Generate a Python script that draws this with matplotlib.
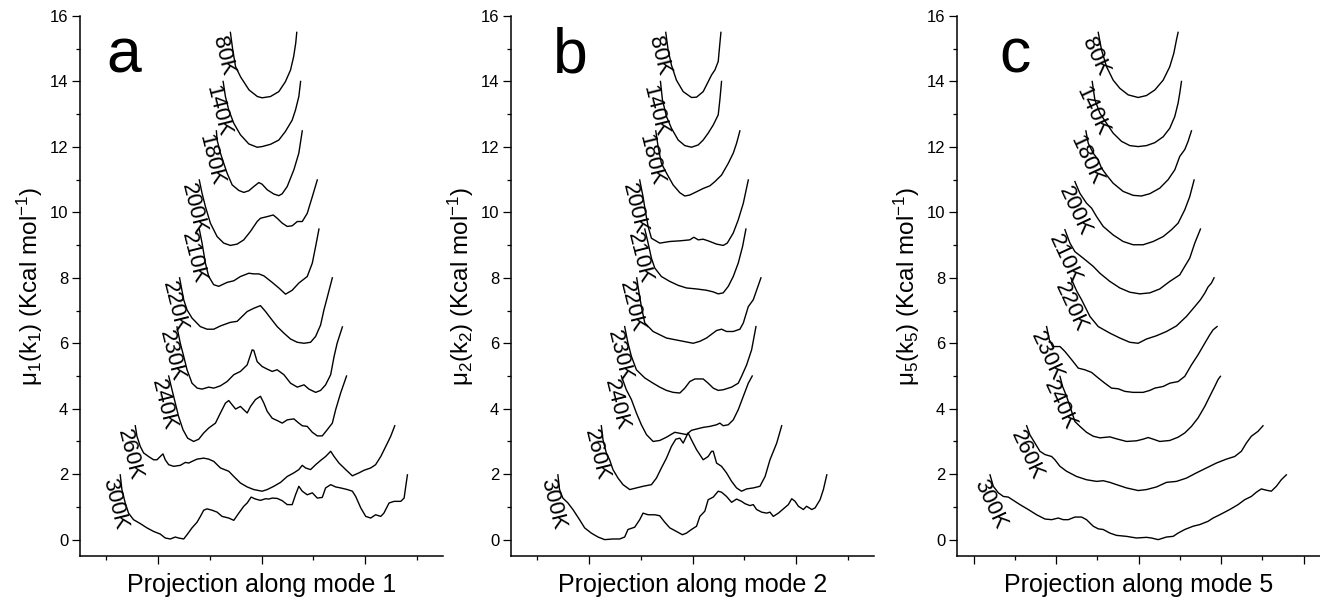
import matplotlib.pyplot as plt
from matplotlib.ticker import MultipleLocator

plt.rcParams['font.family'] = ['Liberation Sans', 'DejaVu Sans']
plt.rcParams['mathtext.fontset'] = 'custom'
plt.rcParams['mathtext.rm'] = 'Liberation Sans'
plt.rcParams['mathtext.it'] = 'Liberation Sans:italic'

temps = ['80K', '140K', '180K', '200K', '210K', '220K', '230K', '240K', '260K', '300K']
modes = [1, 2, 5]
letters = ['a', 'b', 'c']

# free energy profiles, (projection, kcal/mol) pairs
a_80 = [(-0.30, 15.5), (-0.277, 14.96), (-0.25, 14.45), (-0.20, 14.13), (-0.12, 13.74), (-0.04, 13.54), (0.006, 13.5),
        (0.087, 13.54), (0.167, 13.69), (0.23, 13.99), (0.28, 14.35), (0.31, 14.76), (0.33, 15.17), (0.34, 15.5)]
a_140 = [(-0.37, 14.0), (-0.348, 13.54), (-0.316, 13.13), (-0.267, 12.72), (-0.203, 12.37), (-0.122, 12.09),
         (-0.042, 11.99), (0.006, 12.01), (0.087, 12.08), (0.167, 12.21), (0.23, 12.47), (0.296, 12.82),
         (0.328, 13.13), (0.36, 13.54), (0.377, 14.0)]
a_180 = [(-0.435, 12.49), (-0.428, 12.21), (-0.396, 11.81), (-0.364, 11.5), (-0.332, 11.2), (-0.283, 10.84),
         (-0.219, 10.67), (-0.171, 10.61), (-0.122, 10.66), (-0.074, 10.79), (-0.026, 10.91), (0.006, 10.86),
         (0.055, 10.69), (0.119, 10.56), (0.167, 10.51), (0.20, 10.57), (0.248, 10.79), (0.312, 11.3),
         (0.36, 11.81), (0.393, 12.49)]
a_200 = [(-0.60, 10.99), (-0.573, 10.58), (-0.541, 10.18), (-0.493, 9.67), (-0.428, 9.26), (-0.364, 9.06),
         (-0.30, 8.99), (-0.235, 9.03), (-0.171, 9.16), (-0.106, 9.42), (-0.042, 9.72), (-0.01, 9.82),
         (0.055, 9.87), (0.113, 9.92), (0.151, 9.82), (0.20, 9.67), (0.248, 9.57), (0.296, 9.59),
         (0.345, 9.72), (0.393, 9.72), (0.441, 9.97), (0.49, 10.48), (0.538, 10.99)]
a_210 = [(-0.60, 9.49), (-0.573, 9.06), (-0.541, 8.45), (-0.509, 8.04), (-0.461, 7.79), (-0.412, 7.74),
         (-0.332, 7.86), (-0.267, 7.91), (-0.203, 8.04), (-0.122, 8.14), (-0.074, 8.12), (-0.026, 8.12),
         (0.023, 8.06), (0.103, 7.86), (0.167, 7.69), (0.232, 7.5), (0.296, 7.62), (0.36, 7.84),
         (0.441, 8.04), (0.49, 8.45), (0.522, 8.96), (0.554, 9.49)]
a_220 = [(-0.79, 8.0), (-0.75, 7.33), (-0.718, 7.02), (-0.67, 6.77), (-0.59, 6.51), (-0.525, 6.43), (-0.46, 6.43),
         (-0.396, 6.53), (-0.30, 6.64), (-0.235, 6.67), (-0.138, 6.97), (-0.074, 7.07), (-0.01, 7.15),
         (0.039, 6.97), (0.087, 6.77), (0.151, 6.51), (0.216, 6.31), (0.28, 6.13), (0.345, 6.03), (0.41, 6.0),
         (0.473, 6.03), (0.522, 6.21), (0.57, 6.56), (0.602, 7.02), (0.628, 7.33), (0.683, 8.0)]
a_230 = [(-0.815, 6.5), (-0.783, 6.0), (-0.75, 5.6), (-0.718, 5.19), (-0.67, 4.78), (-0.62, 4.63), (-0.573, 4.6),
         (-0.509, 4.66), (-0.46, 4.63), (-0.396, 4.7), (-0.332, 4.83), (-0.267, 5.04), (-0.203, 5.14),
         (-0.138, 5.34), (-0.09, 5.8), (-0.074, 5.78), (-0.042, 5.44), (0.006, 5.29), (0.055, 5.21),
         (0.103, 5.14), (0.151, 5.19), (0.216, 5.04), (0.28, 4.78), (0.345, 4.66), (0.41, 4.73), (0.457, 4.6),
         (0.522, 4.5), (0.57, 4.56), (0.618, 4.73), (0.667, 5.04), (0.70, 5.6), (0.73, 6.01), (0.78, 6.5)]
a_240 = [(-0.895, 5.0), (-0.863, 4.58), (-0.831, 4.17), (-0.80, 3.77), (-0.757, 3.36), (-0.712, 3.1), (-0.654, 3.0),
         (-0.605, 3.07), (-0.557, 3.26), (-0.509, 3.41), (-0.444, 3.56), (-0.396, 3.87), (-0.348, 4.17),
         (-0.316, 4.25), (-0.283, 4.12), (-0.25, 3.99), (-0.203, 4.07), (-0.171, 3.97), (-0.138, 3.87),
         (-0.106, 4.07), (-0.058, 4.28), (-0.01, 4.38), (0.023, 4.17), (0.055, 3.92), (0.103, 3.71),
         (0.151, 3.64), (0.20, 3.56), (0.248, 3.66), (0.312, 3.69), (0.36, 3.56), (0.393, 3.48), (0.441, 3.46),
         (0.49, 3.28), (0.538, 3.17), (0.586, 3.17), (0.634, 3.36), (0.683, 3.56), (0.715, 3.97), (0.763, 4.48),
         (0.82, 5.0)]
a_260 = [(-1.217, 3.48), (-1.201, 3.16), (-1.169, 2.85), (-1.137, 2.65), (-1.089, 2.54), (-1.04, 2.44),
         (-1.008, 2.44), (-0.976, 2.54), (-0.95, 2.62), (-0.928, 2.44), (-0.895, 2.29), (-0.847, 2.24),
         (-0.783, 2.27), (-0.734, 2.36), (-0.702, 2.34), (-0.67, 2.39), (-0.622, 2.46), (-0.557, 2.49),
         (-0.509, 2.46), (-0.46, 2.39), (-0.396, 2.19), (-0.316, 2.09), (-0.267, 1.93), (-0.203, 1.73),
         (-0.138, 1.61), (-0.074, 1.53), (0.006, 1.48), (0.055, 1.53), (0.119, 1.63), (0.184, 1.75),
         (0.248, 1.93), (0.312, 2.04), (0.36, 2.14), (0.393, 2.27), (0.425, 2.19), (0.473, 2.14), (0.522, 2.29),
         (0.57, 2.42), (0.618, 2.54), (0.667, 2.7), (0.70, 2.54), (0.747, 2.34), (0.812, 2.14), (0.876, 1.95),
         (0.94, 2.04), (0.989, 2.12), (1.053, 2.19), (1.10, 2.29), (1.15, 2.54), (1.214, 2.95), (1.246, 3.16),
         (1.285, 3.48)]
a_300 = [(-1.362, 1.98), (-1.346, 1.53), (-1.314, 1.12), (-1.282, 0.81), (-1.234, 0.61), (-1.169, 0.49),
         (-1.105, 0.36), (-1.04, 0.25), (-0.976, 0.17), (-0.928, 0.05), (-0.879, 0.02), (-0.831, 0.08),
         (-0.80, 0.05), (-0.75, 0.02), (-0.718, 0.15), (-0.67, 0.36), (-0.622, 0.53), (-0.589, 0.71),
         (-0.557, 0.90), (-0.525, 0.94), (-0.477, 0.90), (-0.428, 0.84), (-0.38, 0.71), (-0.316, 0.66),
         (-0.267, 0.59), (-0.219, 0.81), (-0.171, 1.02), (-0.138, 1.12), (-0.10, 1.30), (-0.058, 1.24),
         (-0.01, 1.20), (0.039, 1.25), (0.071, 1.24), (0.103, 1.27), (0.151, 1.26), (0.20, 1.19), (0.248, 1.07),
         (0.296, 1.07), (0.328, 1.37), (0.36, 1.63), (0.393, 1.48), (0.441, 1.37), (0.49, 1.43), (0.538, 1.27),
         (0.586, 1.29), (0.618, 1.58), (0.667, 1.68), (0.715, 1.61), (0.763, 1.58), (0.828, 1.53),
         (0.876, 1.48), (0.908, 1.32), (0.957, 0.97), (1.005, 0.71), (1.053, 0.66), (1.10, 0.76), (1.15, 0.71),
         (1.18, 0.81), (1.23, 1.12), (1.279, 1.17), (1.343, 1.17), (1.375, 1.27), (1.391, 1.63), (1.407, 1.98)]

b_80 = [(-0.258, 15.5), (-0.235, 14.96), (-0.203, 14.5), (-0.155, 14.04), (-0.09, 13.69), (-0.01, 13.51),
        (0.039, 13.52), (0.103, 13.69), (0.151, 13.99), (0.184, 14.2), (0.216, 14.35), (0.248, 14.61),
        (0.258, 14.96), (0.274, 15.5)]
b_140 = [(-0.309, 14.0), (-0.29, 13.44), (-0.251, 12.93), (-0.203, 12.57), (-0.138, 12.21), (-0.074, 12.04),
         (-0.01, 11.99), (0.055, 12.06), (0.103, 12.21), (0.151, 12.42), (0.20, 12.67), (0.248, 12.98),
         (0.264, 13.44), (0.28, 14.0)]
b_180 = [(-0.354, 12.49), (-0.332, 12.01), (-0.30, 11.5), (-0.251, 11.2), (-0.187, 10.84), (-0.122, 10.6),
         (-0.074, 10.5), (-0.026, 10.53), (0.039, 10.63), (0.103, 10.73), (0.167, 10.81), (0.216, 10.94),
         (0.28, 11.14), (0.345, 11.5), (0.393, 11.81), (0.425, 12.11), (0.457, 12.49)]
b_200 = [(-0.509, 10.99), (-0.477, 10.48), (-0.451, 9.97), (-0.428, 9.57), (-0.396, 9.21), (-0.316, 9.06),
         (-0.219, 9.11), (-0.122, 9.13), (-0.026, 9.16), (0.013, 9.24), (0.055, 9.16), (0.103, 9.18),
         (0.151, 9.13), (0.232, 9.03), (0.296, 8.99), (0.335, 9.06), (0.393, 9.37), (0.441, 9.77),
         (0.49, 10.28), (0.538, 10.99)]
b_210 = [(-0.46, 9.49), (-0.428, 9.06), (-0.396, 8.6), (-0.364, 8.3), (-0.30, 8.04), (-0.219, 7.89),
         (-0.138, 7.77), (-0.058, 7.69), (0.039, 7.66), (0.135, 7.62), (0.20, 7.57), (0.248, 7.51),
         (0.296, 7.54), (0.345, 7.74), (0.393, 8.04), (0.441, 8.45), (0.483, 8.96), (0.515, 9.49)]
b_220 = [(-0.538, 8.0), (-0.515, 7.53), (-0.493, 7.12), (-0.46, 6.62), (-0.38, 6.36), (-0.251, 6.16),
         (-0.09, 6.06), (0.006, 6.0), (0.071, 6.06), (0.135, 6.16), (0.232, 6.39), (0.28, 6.43), (0.328, 6.36),
         (0.393, 6.36), (0.457, 6.43), (0.49, 6.62), (0.538, 7.12), (0.586, 7.33), (0.66, 8.0)]
b_230 = [(-0.654, 6.51), (-0.622, 6.0), (-0.589, 5.6), (-0.541, 5.19), (-0.46, 4.94), (-0.38, 4.78),
         (-0.316, 4.66), (-0.251, 4.56), (-0.187, 4.5), (-0.122, 4.48), (-0.074, 4.63), (-0.026, 4.83),
         (0.023, 4.91), (0.103, 4.91), (0.151, 4.78), (0.20, 4.63), (0.248, 4.56), (0.296, 4.58),
         (0.377, 4.66), (0.441, 4.78), (0.473, 4.99), (0.522, 5.34), (0.57, 5.8), (0.612, 6.51)]
b_240 = [(-0.686, 5.0), (-0.638, 4.58), (-0.589, 4.28), (-0.541, 3.87), (-0.493, 3.51), (-0.444, 3.21),
         (-0.38, 3.0), (-0.316, 3.03), (-0.251, 3.13), (-0.171, 3.28), (-0.106, 3.24), (-0.058, 3.21),
         (-0.01, 3.34), (0.039, 3.38), (0.103, 3.43), (0.167, 3.46), (0.232, 3.51), (0.264, 3.56),
         (0.296, 3.48), (0.345, 3.51), (0.393, 3.66), (0.441, 3.97), (0.49, 4.38), (0.538, 4.78), (0.576, 5.0)]
b_260 = [(-0.879, 3.48), (-0.863, 3.05), (-0.831, 2.65), (-0.799, 2.44), (-0.767, 2.14), (-0.718, 1.88),
         (-0.67, 1.68), (-0.605, 1.53), (-0.541, 1.58), (-0.477, 1.63), (-0.396, 1.68), (-0.348, 1.88),
         (-0.30, 2.19), (-0.251, 2.49), (-0.203, 2.85), (-0.161, 3.07), (-0.122, 3.1), (-0.09, 2.95),
         (-0.058, 3.16), (-0.042, 3.26), (-0.01, 3.05), (0.039, 2.75), (0.103, 2.44), (0.151, 2.54),
         (0.184, 2.7), (0.20, 2.7), (0.232, 2.34), (0.28, 2.24), (0.328, 2.04), (0.377, 1.78), (0.425, 1.58),
         (0.473, 1.48), (0.522, 1.55), (0.586, 1.58), (0.65, 1.63), (0.70, 1.93), (0.747, 2.44), (0.812, 2.95),
         (0.86, 3.48)]
b_300 = [(-1.298, 1.98), (-1.282, 1.53), (-1.25, 1.27), (-1.201, 1.12), (-1.153, 0.92), (-1.089, 0.61),
         (-1.04, 0.36), (-0.976, 0.2), (-0.911, 0.08), (-0.847, 0.0), (-0.767, 0.02), (-0.702, 0.02),
         (-0.654, 0.08), (-0.622, 0.31), (-0.557, 0.38), (-0.509, 0.61), (-0.477, 0.81), (-0.428, 0.76),
         (-0.364, 0.76), (-0.316, 0.73), (-0.267, 0.53), (-0.219, 0.36), (-0.155, 0.25), (-0.097, 0.15),
         (-0.058, 0.2), (-0.01, 0.31), (0.039, 0.41), (0.071, 0.71), (0.119, 0.87), (0.151, 1.22), (0.20, 1.3),
         (0.248, 1.48), (0.28, 1.45), (0.328, 1.32), (0.377, 1.14), (0.425, 1.24), (0.473, 1.17), (0.505, 1.1),
         (0.554, 1.04), (0.586, 1.07), (0.618, 0.92), (0.667, 0.84), (0.715, 0.81), (0.747, 0.84),
         (0.779, 0.71), (0.828, 0.81), (0.876, 0.94), (0.924, 1.07), (0.957, 1.25), (0.989, 1.17),
         (1.021, 1.02), (1.069, 0.92), (1.10, 1.02), (1.15, 0.92), (1.182, 0.97), (1.23, 1.22), (1.262, 1.53),
         (1.295, 1.98)]

c_80 = [(-0.488, 15.5), (-0.448, 14.96), (-0.387, 14.45), (-0.307, 14.04), (-0.226, 13.79), (-0.125, 13.59),
        (-0.004, 13.51), (0.097, 13.57), (0.198, 13.74), (0.299, 14.04), (0.379, 14.45), (0.428, 14.86),
        (0.46, 15.27), (0.48, 15.5)]
c_140 = [(-0.561, 14.0), (-0.529, 13.44), (-0.468, 13.03), (-0.387, 12.72), (-0.307, 12.42), (-0.206, 12.17),
         (-0.105, 12.04), (-0.004, 12.01), (0.097, 12.04), (0.198, 12.13), (0.299, 12.31), (0.379, 12.57),
         (0.44, 12.93), (0.48, 13.34), (0.50, 13.64), (0.521, 14.0)]
c_180 = [(-0.638, 12.49), (-0.609, 12.11), (-0.549, 11.81), (-0.488, 11.6), (-0.448, 11.35), (-0.387, 11.14),
         (-0.307, 10.89), (-0.186, 10.64), (-0.065, 10.52), (0.036, 10.5), (0.137, 10.57), (0.258, 10.74),
         (0.359, 11.0), (0.44, 11.3), (0.50, 11.71), (0.561, 11.92), (0.601, 12.17), (0.642, 12.49)]
c_200 = [(-0.771, 10.94), (-0.71, 10.58), (-0.63, 10.28), (-0.569, 10.13), (-0.508, 9.87), (-0.428, 9.57),
         (-0.307, 9.31), (-0.186, 9.11), (-0.065, 9.01), (0.056, 9.01), (0.178, 9.11), (0.299, 9.26),
         (0.40, 9.47), (0.48, 9.67), (0.561, 10.08), (0.621, 10.48), (0.674, 10.99)]
c_210 = [(-0.892, 9.47), (-0.831, 9.06), (-0.771, 8.8), (-0.67, 8.6), (-0.549, 8.35), (-0.468, 8.14),
         (-0.347, 7.89), (-0.226, 7.69), (-0.105, 7.56), (0.016, 7.51), (0.137, 7.54), (0.258, 7.66),
         (0.379, 7.89), (0.50, 8.09), (0.561, 8.35), (0.621, 8.6), (0.682, 9.06), (0.751, 9.49)]
c_220 = [(-0.82, 8.0), (-0.75, 7.6), (-0.69, 7.33), (-0.589, 6.82), (-0.488, 6.51), (-0.347, 6.31),
         (-0.226, 6.16), (-0.105, 6.03), (-0.004, 6.0), (0.097, 6.13), (0.218, 6.23), (0.339, 6.36),
         (0.46, 6.53), (0.581, 6.82), (0.682, 7.12), (0.751, 7.33), (0.803, 7.53), (0.843, 7.72),
         (0.884, 7.84), (0.916, 8.0)]
c_230 = [(-1.114, 6.51), (-1.081, 6.11), (-1.041, 5.9), (-0.952, 5.9), (-0.892, 5.75), (-0.811, 5.5),
         (-0.73, 5.24), (-0.65, 5.19), (-0.569, 5.11), (-0.488, 4.94), (-0.408, 4.78), (-0.327, 4.63),
         (-0.246, 4.61), (-0.165, 4.53), (-0.065, 4.5), (0.056, 4.5), (0.137, 4.56), (0.198, 4.63),
         (0.299, 4.68), (0.379, 4.78), (0.48, 4.83), (0.561, 4.99), (0.642, 5.34), (0.722, 5.65),
         (0.803, 6.0), (0.864, 6.26), (0.904, 6.41), (0.952, 6.51)]
c_240 = [(-0.952, 4.99), (-0.92, 4.68), (-0.872, 4.38), (-0.811, 3.92), (-0.771, 3.61), (-0.71, 3.46),
         (-0.63, 3.28), (-0.549, 3.16), (-0.468, 3.11), (-0.347, 3.14), (-0.266, 3.08), (-0.145, 3.0),
         (-0.024, 3.02), (0.056, 3.07), (0.117, 3.12), (0.178, 3.07), (0.258, 3.0), (0.379, 3.03),
         (0.48, 3.13), (0.561, 3.26), (0.642, 3.46), (0.722, 3.72), (0.803, 4.07), (0.864, 4.38),
         (0.924, 4.68), (0.964, 4.89), (0.993, 4.99)]
c_260 = [(-1.356, 3.48), (-1.316, 3.2), (-1.255, 2.95), (-1.195, 2.7), (-1.134, 2.6), (-1.053, 2.54),
         (-1.013, 2.44), (-0.952, 2.24), (-0.872, 2.09), (-0.751, 1.93), (-0.63, 1.83), (-0.508, 1.78),
         (-0.428, 1.8), (-0.347, 1.75), (-0.266, 1.68), (-0.145, 1.58), (-0.004, 1.5), (0.097, 1.53),
         (0.218, 1.61), (0.339, 1.75), (0.46, 1.78), (0.581, 1.88), (0.702, 2.04), (0.823, 2.19),
         (0.944, 2.34), (1.065, 2.46), (1.166, 2.54), (1.247, 2.7), (1.307, 2.95), (1.368, 3.16),
         (1.449, 3.31), (1.509, 3.48)]
c_300 = [(-1.80, 1.98), (-1.76, 1.63), (-1.699, 1.43), (-1.638, 1.32), (-1.578, 1.3), (-1.517, 1.2),
         (-1.437, 1.07), (-1.336, 0.92), (-1.235, 0.76), (-1.134, 0.63), (-1.053, 0.61), (-0.973, 0.66),
         (-0.912, 0.61), (-0.851, 0.61), (-0.771, 0.69), (-0.69, 0.69), (-0.63, 0.61), (-0.549, 0.41),
         (-0.488, 0.33), (-0.428, 0.31), (-0.347, 0.2), (-0.266, 0.13), (-0.145, 0.1), (-0.024, 0.05),
         (0.097, 0.07), (0.157, 0.05), (0.238, 0.0), (0.339, 0.08), (0.42, 0.1), (0.48, 0.2), (0.561, 0.31),
         (0.662, 0.41), (0.743, 0.46), (0.843, 0.56), (0.904, 0.66), (0.985, 0.76), (1.106, 0.92),
         (1.207, 1.07), (1.287, 1.22), (1.368, 1.32), (1.429, 1.45), (1.489, 1.55), (1.55, 1.51),
         (1.61, 1.48), (1.671, 1.63), (1.731, 1.83), (1.792, 1.98)]

panels = [
    [a_80, a_140, a_180, a_200, a_210, a_220, a_230, a_240, a_260, a_300],
    [b_80, b_140, b_180, b_200, b_210, b_220, b_230, b_240, b_260, b_300],
    [c_80, c_140, c_180, c_200, c_210, c_220, c_230, c_240, c_260, c_300],
]

# layout (figure fractions) and per-panel settings
W, H = 1320, 600
lefts = [80 / W, 511 / W, 957 / W]
xlims = [(-1.75, 1.75), (-1.75, 1.75), (-2.2, 2.2)]
label_rot = [-76, -76, -65]
letter_x = [0.074, 0.116, 0.118]

fig = plt.figure(figsize=(W / 100, H / 100), dpi=100)

for i, curves in enumerate(panels):
    ax = fig.add_axes([lefts[i], 1 - 556 / H, 363 / W, 540 / H])
    for t, pts in zip(temps, curves):
        xs = [p[0] for p in pts]
        ys = [p[1] for p in pts]
        ax.plot(xs, ys, color='black', lw=1.0)
        ax.annotate(t, xy=pts[0], xytext=(-1, -1), textcoords='offset points',
                    rotation=label_rot[i], rotation_mode='anchor',
                    ha='left', va='top', fontsize=16)

    ax.set_xlim(*xlims[i])
    ax.set_ylim(-0.5, 16)
    ax.xaxis.set_major_locator(MultipleLocator(1))
    ax.xaxis.set_minor_locator(MultipleLocator(0.5))
    ax.yaxis.set_major_locator(MultipleLocator(2))
    ax.yaxis.set_minor_locator(MultipleLocator(1))
    ax.tick_params(which='both', direction='out', width=0.9, labelsize=12, pad=3)
    ax.tick_params(which='major', length=5.5)
    ax.tick_params(which='minor', length=3)
    ax.tick_params(axis='x', labelbottom=False)
    for s in ['top', 'right']:
        ax.spines[s].set_visible(False)
    for s in ['left', 'bottom']:
        ax.spines[s].set_linewidth(1.1)

    m = modes[i]
    ax.set_ylabel(r'$\mathregular{μ_%d(k_%d)\ (Kcal\ mol^{-1})}$' % (m, m), fontsize=17.5, labelpad=3)
    ax.set_xlabel('Projection along mode %d' % m, fontsize=18, labelpad=6)
    ax.text(letter_x[i], 0.896, letters[i], transform=ax.transAxes,
            fontsize=45, ha='left', va='baseline')

fig.savefig('out.png', dpi=100)
